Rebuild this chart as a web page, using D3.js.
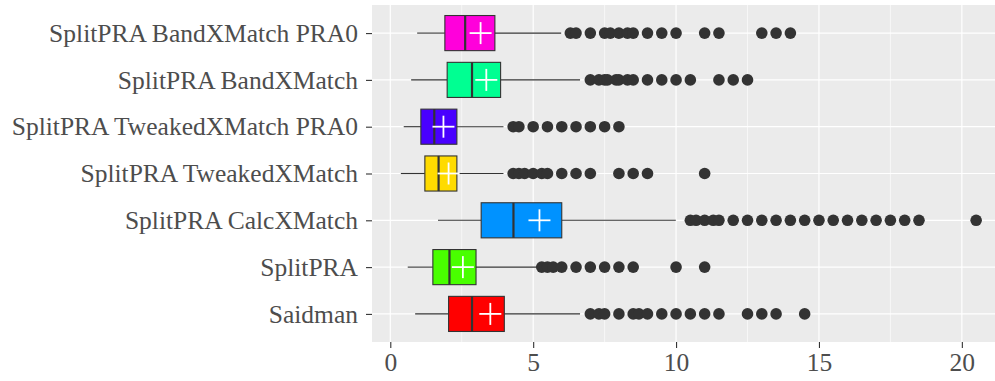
<!DOCTYPE html>
<html>
<head>
<meta charset="utf-8">
<script src="https://cdn.jsdelivr.net/npm/d3@7"></script>
<style>
  body { margin: 0; background: #fff; }
  svg { display: block; }
</style>
</head>
<body>
<svg></svg>
<script>
let width = 995, height = 381;

// categories, top to bottom
let categories = ["SplitPRA BandXMatch PRA0", "SplitPRA BandXMatch", "SplitPRA TweakedXMatch PRA0",
  "SplitPRA TweakedXMatch", "SplitPRA CalcXMatch", "SplitPRA", "Saidman"];
let colors = ["#FF00DB", "#00FF92", "#4900FF", "#FFDB00", "#0092FF", "#49FF00", "#FF0000"];

// box statistics
let whiskerLow  = [0.94, 0.73, 0.47, 0.37, 1.67, 0.61, 0.87];
let q1          = [1.91, 1.99, 1.07, 1.21, 3.18, 1.49, 2.04];
let median      = [2.62, 2.86, 1.54, 1.69, 4.31, 2.07, 2.86];
let q3          = [3.66, 3.86, 2.33, 2.33, 6.00, 3.00, 3.99];
let whiskerHigh = [5.98, 6.64, 3.96, 3.96, 9.99, 5.13, 6.64];
let means       = [3.16, 3.36, 1.86, 2.04, 5.22, 2.54, 3.50];
let outliers = [
  [6.3, 6.5, 7.0, 7.5, 7.7, 8.0, 8.3, 8.5, 9.0, 9.5, 10.0, 11.0, 11.5, 13.0, 13.5, 14.0],
  [7.0, 7.3, 7.5, 7.6, 7.9, 8.0, 8.3, 8.5, 9.0, 9.5, 10.0, 10.5, 11.5, 12.0, 12.5],
  [4.3, 4.5, 5.0, 5.5, 6.0, 6.5, 7.0, 7.5, 8.0],
  [4.3, 4.5, 4.7, 5.0, 5.3, 5.5, 6.0, 6.5, 7.0, 8.0, 8.5, 9.0, 11.0],
  [10.5, 10.7, 11.0, 11.3, 11.5, 12.0, 12.5, 13.0, 13.5, 14.0, 14.5, 15.0, 15.5, 16.0, 16.5, 17.0, 17.5, 18.0, 18.5, 20.5],
  [5.3, 5.5, 5.7, 6.0, 6.5, 7.0, 7.5, 8.0, 8.5, 10.0, 11.0],
  [7.0, 7.3, 7.5, 8.0, 8.5, 8.7, 9.0, 9.5, 10.0, 10.5, 11.0, 11.5, 12.5, 13.0, 13.5, 14.5]
];
let xTicks = [0, 5, 10, 15, 20];
let xMinor = [2.5, 7.5, 12.5, 17.5];

let rows = categories.map((c, i) => ({
  name: c, color: colors[i], lo: whiskerLow[i], q1: q1[i], med: median[i],
  q3: q3[i], hi: whiskerHigh[i], mean: means[i], out: outliers[i]
}));

let panel = {left: 372, right: 1005, top: 5, bottom: 342};

let svg = d3.select("svg")
    .attr("width", width)
    .attr("height", height);

let x = d3.scaleLinear()
    .domain([-0.64, 21.51])
    .range([panel.left, panel.right]);

let y = d3.scalePoint()
    .domain(categories)
    .range([panel.top, panel.bottom])
    .padding(0.6);

let boxHalf = y.step() * 0.375;

// panel background
svg.append("rect")
    .attr("x", panel.left)
    .attr("y", panel.top)
    .attr("width", panel.right - panel.left)
    .attr("height", panel.bottom - panel.top)
    .attr("fill", "#EBEBEB");

// grid
let grid = svg.append("g");
grid.selectAll(".minor")
    .data(xMinor)
    .enter().append("line")
    .attr("x1", d => x(d)).attr("x2", d => x(d))
    .attr("y1", panel.top).attr("y2", panel.bottom)
    .attr("stroke", "#fff").attr("stroke-width", 0.6);
grid.selectAll(".major")
    .data(xTicks)
    .enter().append("line")
    .attr("x1", d => x(d)).attr("x2", d => x(d))
    .attr("y1", panel.top).attr("y2", panel.bottom)
    .attr("stroke", "#fff").attr("stroke-width", 1.2);
grid.selectAll(".hmajor")
    .data(categories)
    .enter().append("line")
    .attr("x1", panel.left).attr("x2", panel.right)
    .attr("y1", d => y(d)).attr("y2", d => y(d))
    .attr("stroke", "#fff").attr("stroke-width", 1.2);

// boxes
let g = svg.append("g")
    .selectAll("g")
    .data(rows)
    .enter().append("g")
    .attr("transform", d => `translate(0,${y(d.name)})`);

g.append("line")
    .attr("x1", d => x(d.lo)).attr("x2", d => x(d.q1))
    .attr("stroke", "#333").attr("stroke-width", 1.1);
g.append("line")
    .attr("x1", d => x(d.q3)).attr("x2", d => x(d.hi))
    .attr("stroke", "#333").attr("stroke-width", 1.1);

g.selectAll(".out")
    .data(d => d.out)
    .enter().append("circle")
    .attr("cx", d => x(d))
    .attr("r", 5.8)
    .attr("fill", "#333");

g.append("rect")
    .attr("x", d => x(d.q1))
    .attr("y", -boxHalf)
    .attr("width", d => x(d.q3) - x(d.q1))
    .attr("height", boxHalf * 2)
    .attr("fill", d => d.color)
    .attr("stroke", "#333")
    .attr("stroke-width", 1.1);

g.append("line")
    .attr("x1", d => x(d.med)).attr("x2", d => x(d.med))
    .attr("y1", -boxHalf).attr("y2", boxHalf)
    .attr("stroke", "#333").attr("stroke-width", 2.2);

// mean cross
let arm = 11;
g.append("line")
    .attr("x1", d => x(d.mean) - arm).attr("x2", d => x(d.mean) + arm)
    .attr("stroke", "#fff").attr("stroke-width", 1.8);
g.append("line")
    .attr("x1", d => x(d.mean)).attr("x2", d => x(d.mean))
    .attr("y1", -arm).attr("y2", arm)
    .attr("stroke", "#fff").attr("stroke-width", 1.8);

// axes
let font = "'Liberation Serif', 'DejaVu Serif', serif";

let xAxis = svg.append("g")
    .attr("transform", `translate(0,${panel.bottom})`)
    .call(d3.axisBottom(x).tickValues(xTicks).tickSize(6).tickPadding(5));
xAxis.select(".domain").remove();
xAxis.selectAll("line").attr("stroke", "#333").attr("stroke-width", 1.1);
xAxis.selectAll("text")
    .attr("fill", "#4D4D4D")
    .style("font-family", font)
    .style("font-size", "25.5px");

let yAxis = svg.append("g")
    .attr("transform", `translate(${panel.left},0)`)
    .call(d3.axisLeft(y).tickSize(6).tickPadding(8));
yAxis.select(".domain").remove();
yAxis.selectAll("line").attr("stroke", "#333").attr("stroke-width", 1.1);
yAxis.selectAll("text")
    .attr("fill", "#4D4D4D")
    .style("font-family", font)
    .style("font-size", "25.5px");
</script>
</body>
</html>
